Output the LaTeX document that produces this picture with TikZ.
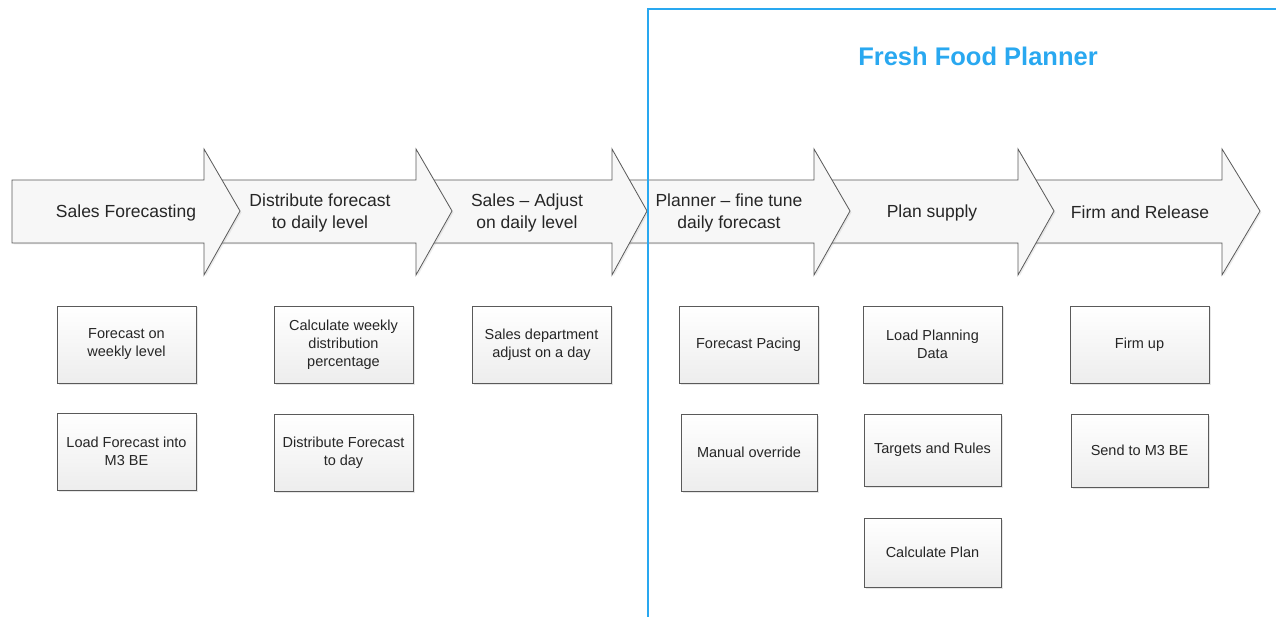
\documentclass[tikz,border=0pt]{standalone}
\usepackage{fontspec}
\setmainfont{Liberation Sans}
\usetikzlibrary{shadows}
\definecolor{ffblue}{RGB}{41,168,240}
\definecolor{edgegray}{RGB}{90,90,90}
\begin{document}
\begin{tikzpicture}[x=1pt,y=-1pt,
  stagebox/.style={draw=edgegray, line width=0.8pt, top color=white, bottom color=gray!14,
    minimum width=139pt, minimum height=77pt, inner sep=0pt, align=center,
    font=\fontsize{14.5}{18}\selectfont, text=black!85,
    drop shadow={shadow xshift=1.5pt, shadow yshift=-1.5pt, opacity=0.2}},
  arrowshape/.style={draw=edgegray, line width=0.8pt, fill=gray!6,
    drop shadow={shadow xshift=1.5pt, shadow yshift=-1.5pt, opacity=0.15}},
  arrowlabel/.style={font=\fontsize{17.5}{22}\selectfont, align=center, text=black!85, inner sep=0pt, yshift=-1.5pt},
  titlelabel/.style={font=\bfseries\fontsize{25.5}{30}\selectfont, text=ffblue, inner sep=0pt}]
\useasboundingbox (0,0) rectangle (1276,617);
\newcommand\stagearrow[3]{%
  \path[arrowshape] (#1,180) -- (#2,180) -- (#2,149) -- (#3,211) -- (#2,275) -- (#2,243) -- (#1,243) -- cycle;}
% arrows drawn right to left so each head lies over the next body
\stagearrow{1022}{1222}{1260}
\stagearrow{818}{1018}{1054}
\stagearrow{616}{814}{850}
\stagearrow{420}{612}{647}
\stagearrow{210}{416}{452}
\stagearrow{12}{204}{240}
\node[arrowlabel] (a1) at (126,211) {Sales Forecasting};
\node[arrowlabel] (a2) at (320,211) {Distribute forecast\\to daily level};
\node[arrowlabel] (a3) at (527,211) {Sales – Adjust\\on daily level};
\node[arrowlabel] (a4) at (729,211) {Planner – fine tune\\daily forecast};
\node[arrowlabel] (a5) at (932,211) {Plan supply};
\node[arrowlabel] (a6) at (1140,211) {Firm and Release};
% boxes
\node[stagebox] (b11) at (126.5,344.5) {Forecast on\\weekly level};
\node[stagebox] (b12) at (126.5,451.5) {Load Forecast into\\M3 BE};
\node[stagebox] (b21) at (343.5,344.5) {Calculate weekly\\distribution\\percentage};
\node[stagebox] (b22) at (343.5,452.5) {Distribute Forecast\\to day};
\node[stagebox] (b31) at (541.5,344.5) {Sales department\\adjust on a day};
\node[stagebox] (b41) at (748.5,344.5) {Forecast Pacing};
\node[stagebox, minimum width=136pt] (b42) at (749,452.5) {Manual override};
\node[stagebox] (b51) at (932.5,344.5) {Load Planning\\Data};
\node[stagebox, minimum width=137pt, minimum height=72pt] (b52) at (932.5,450) {Targets and Rules};
\node[stagebox, minimum width=137pt, minimum height=69pt] (b53) at (932.5,552.5) {Calculate Plan};
\node[stagebox] (b61) at (1139.5,344.5) {Firm up};
\node[stagebox, minimum width=137pt, minimum height=73pt] (b62) at (1139.5,450.5) {Send to M3 BE};
% planner frame
\draw[ffblue, line width=2.8pt] (648,617) -- (648,9) -- (1276,9);
\node[titlelabel] (title) at (978,56) {Fresh Food Planner};
\end{tikzpicture}
\end{document}
